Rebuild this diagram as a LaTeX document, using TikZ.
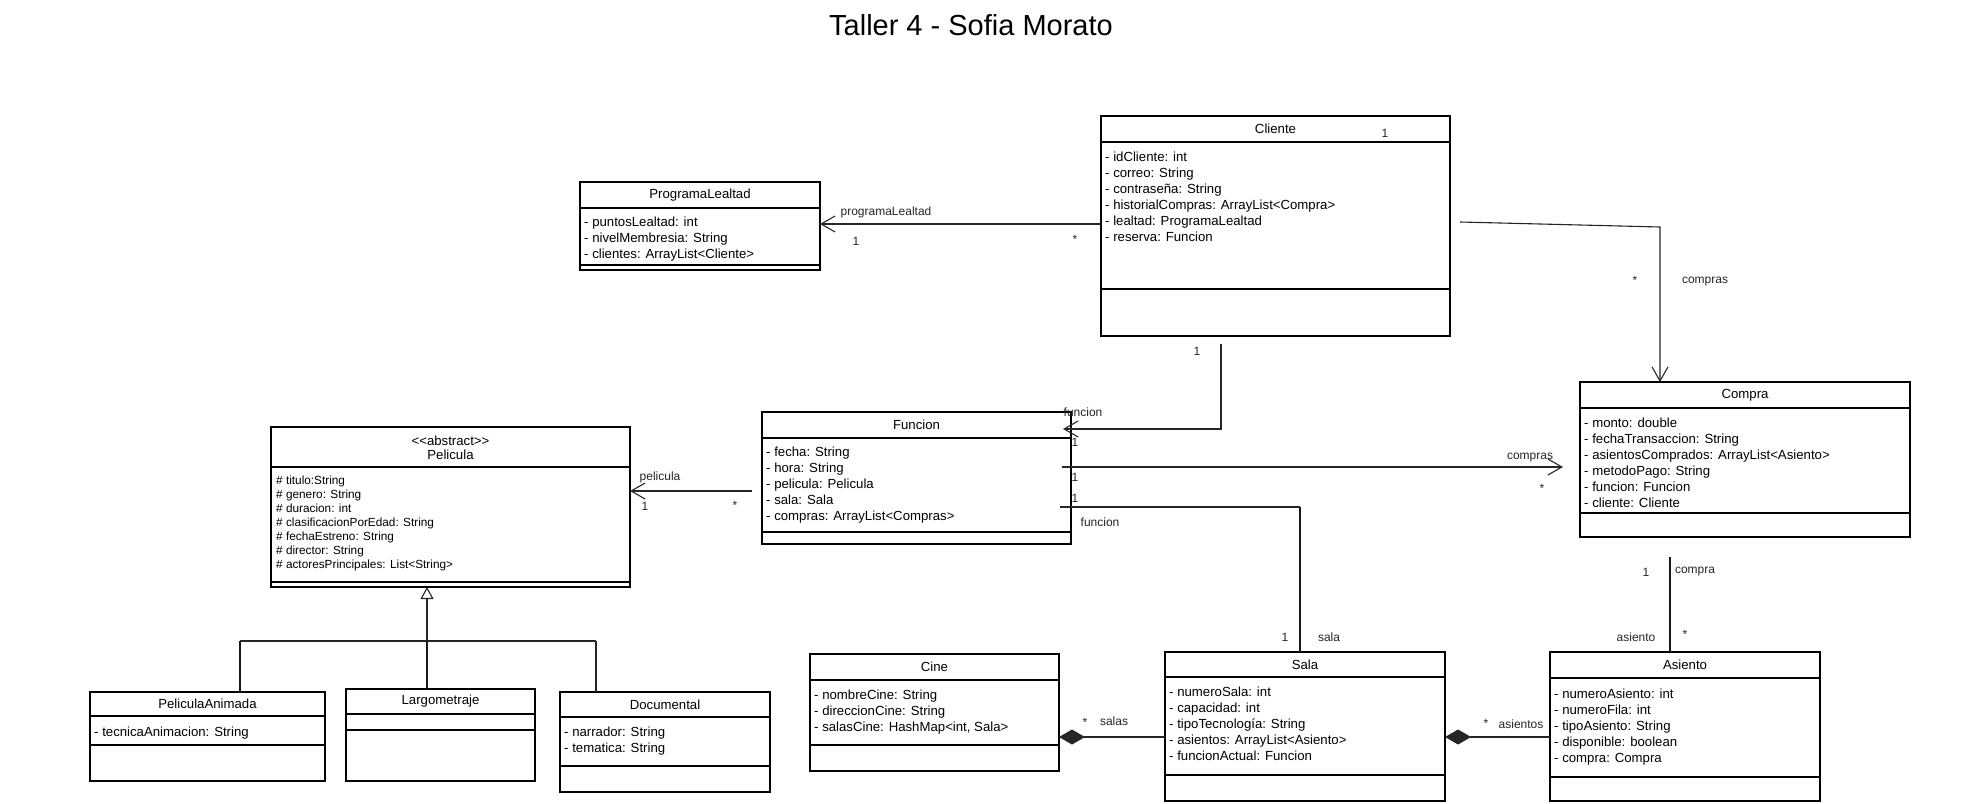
\documentclass[tikz,border=0pt]{standalone}
\usepackage{fontspec}
\setmainfont{Liberation Sans}
\usetikzlibrary{arrows.meta,calc}
\tikzset{
  box/.style={draw=black, line width=1.3pt, inner sep=0pt, outer sep=0pt, anchor=north west, fill=white},
  sepline/.style={draw=black, line width=1.3pt},
  ctitle/.style={inner sep=0pt, font=\fontsize{13.2}{16}\selectfont},
  attr/.style={inner sep=0pt, anchor=base west, font=\fontsize{13.2}{16}\selectfont},
  sattr/.style={inner sep=0pt, anchor=base west, font=\fontsize{11.8}{14}\selectfont},
  lbl/.style={inner sep=0pt, font=\fontsize{12}{14}\selectfont, text=black!85},
  assoc/.style={draw=black!85, line width=1.1pt},
  thickline/.style={draw=black!90, line width=2pt},
  openarr/.style={assoc, -{Straight Barb[length=14pt,width=16pt]}},
  comp/.style={assoc, {Diamond[length=26pt,width=15pt]}-},
  inh/.style={assoc, -{Triangle[length=12pt,width=13pt,fill=white]}},
}
\newcommand\umlclass[8]{%
  \node[box, minimum width={(#4-#2)*1pt}, minimum height={(#5-#3)*1pt}] (#1) at (#2,#3) {};
  \draw[sepline] (#1.west |- 0,#6) -- (#1.east |- 0,#6);
  \draw[sepline] (#1.west |- 0,#7) -- (#1.east |- 0,#7);
  \node[ctitle] (#1-t) at ({(#2+#4)/2},{(#3+#6)/2}) {#8};
}
\newcommand\attrs[6]{%
  \foreach \t [count=\i from 0] in {#6} \node[#5] (#1-a\i) at (#2,{#3+#4*\i}) {\t};
}
\begin{document}
\begin{tikzpicture}[x=1pt,y=-1pt]
\fill[white] (0,0) rectangle (1970,803);
\useasboundingbox (0,0) rectangle (1970,803);

\node[inner sep=0pt, anchor=base, font=\fontsize{29}{34}\selectfont] (title) at (971,35) {Taller 4 - Sofia Morato};

% classes
\umlclass{prog}{580}{182}{820}{270}{208}{265}{ProgramaLealtad}
\attrs{prog}{584}{226}{16}{attr}{- puntosLealtad: int, - nivelMembresia: String, - clientes: ArrayList<Cliente>}

\umlclass{cliente}{1101}{116}{1450}{336}{142}{289}{Cliente}
\attrs{cliente}{1105}{161}{16}{attr}{- idCliente: int, - correo: String, - contraseña: String, - historialCompras: ArrayList<Compra>, - lealtad: ProgramaLealtad, - reserva: Funcion}

\umlclass{compra}{1580}{382}{1910}{537}{408}{513}{Compra}
\attrs{compra}{1584}{427}{16}{attr}{- monto: double, - fechaTransaccion: String, - asientosComprados: ArrayList<Asiento>, - metodoPago: String, - funcion: Funcion, - cliente: Cliente}

\umlclass{funcion}{762}{412}{1071}{544}{438}{532}{Funcion}
\attrs{funcion}{766}{456}{16}{attr}{- fecha: String, - hora: String, - pelicula: Pelicula, - sala: Sala, - compras: ArrayList<Compras>}

\umlclass{pelicula}{271}{427}{630}{587}{467}{582}{}
\node[ctitle] (pelicula-st) at (450.5,441) {<\kern0pt<abstract>\kern0pt>};
\node[ctitle] (pelicula-t2) at (450.5,455) {Pelicula};
\attrs{pelicula}{276}{484}{14}{sattr}{\# titulo:String, \# genero: String, \# duracion: int, \# clasificacionPorEdad: String, \# fechaEstreno: String, \# director: String, \# actoresPrincipales: List<String>}

\umlclass{panim}{90}{692}{325}{781}{716}{745}{PeliculaAnimada}
\attrs{panim}{94}{736}{16}{attr}{- tecnicaAnimacion: String}

\umlclass{largo}{346}{689}{535}{781}{714}{730}{Largometraje}

\umlclass{docu}{560}{692}{770}{792}{717}{766}{Documental}
\attrs{docu}{564}{736}{16}{attr}{- narrador: String, - tematica: String}

\umlclass{cine}{810}{654}{1059}{771}{680}{745}{Cine}
\attrs{cine}{814}{699}{16}{attr}{- nombreCine: String, - direccionCine: String, {- salasCine: HashMap<int, Sala>}}

\umlclass{sala}{1165}{652}{1445}{801}{677}{775}{Sala}
\attrs{sala}{1169}{696}{16}{attr}{- numeroSala: int, - capacidad: int, - tipoTecnología: String, - asientos: ArrayList<Asiento>, - funcionActual: Funcion}

\umlclass{asiento}{1550}{652}{1820}{801}{678}{777}{Asiento}
\attrs{asiento}{1554}{698}{16}{attr}{- numeroAsiento: int, - numeroFila: int, - tipoAsiento: String, - disponible: boolean, - compra: Compra}

% Cliente -> ProgramaLealtad
\draw[openarr] (cliente.west |- 0,224) -- (prog.east |- 0,224);
\node[lbl] (l1a) at (886,212) {programaLealtad};
\node[lbl] (l1b) at (856,241) {1};
\node[lbl] (l1c) at (1075,239) {*};

% Cliente -> Compra
\coordinate (c2) at (1660,227);
\draw[openarr] ($(cliente.east |- 0,222)+(10,0)$) -- (c2) -- (compra.north -| c2);
\node[lbl] (l2a) at (1385,133) {1};
\node[lbl] (l2b) at (1635,280) {*};
\node[lbl] (l2c) at (1705,282) {compras};

% Cliente -> Funcion
\coordinate (c3) at (1221,429);
\draw[openarr] ($(cliente.south -| c3)+(0,8)$) -- (c3) -- ($(funcion.east |- c3)+(-8,0)$);
\node[lbl] (l3a) at (1197,351) {1};
\node[lbl] (l3b) at (1083,412) {funcion};
\node[lbl] (l3c) at (1075,442) {1};

% Funcion -> Compra
\draw[openarr] ($(funcion.east |- 0,467)+(-9,0)$) -- ($(compra.west |- 0,467)+(-17,0)$);
\node[lbl] (l4a) at (1075,477) {1};
\node[lbl] (l4b) at (1530,458) {compras};
\node[lbl] (l4c) at (1542,488) {*};

% Funcion -> Pelicula
\draw[openarr] ($(funcion.west |- 0,491)+(-10,0)$) -- (pelicula.east |- 0,491);
\node[lbl] (l5a) at (660,477) {pelicula};
\node[lbl] (l5b) at (645,506) {1};
\node[lbl] (l5c) at (735,505) {*};

% Funcion -- Sala
\coordinate (c6) at (1300,507);
\draw[assoc] ($(funcion.east |- c6)+(-11,0)$) -- (c6);
\draw[thickline] (c6) -- (sala.north -| c6);
\node[lbl] (l6a) at (1075,498) {1};
\node[lbl] (l6b) at (1100,522) {funcion};
\node[lbl] (l6c) at (1285,637) {1};
\node[lbl] (l6d) at (1329,637) {sala};

% Cine <>-- Sala
\draw[comp] (cine.east |- 0,737) -- (sala.west |- 0,737);
\node[lbl] (l7a) at (1085,722) {*};
\node[lbl] (l7b) at (1114,721) {salas};

% Sala <>-- Asiento
\draw[comp] (sala.east |- 0,737) -- (asiento.west |- 0,737);
\node[lbl] (l8a) at (1486,723) {*};
\node[lbl] (l8b) at (1521,724) {asientos};

% Compra -- Asiento
\coordinate (c9) at (1670,557);
\draw[thickline] (c9) -- (asiento.north -| c9);
\node[lbl] (l9a) at (1646,572) {1};
\node[lbl] (l9b) at (1695,572) {compra};
\node[lbl] (l9c) at (1636,637) {asiento};
\node[lbl] (l9d) at (1685,634) {*};

% Inheritance
\coordinate (g) at (427,641);
\coordinate (gl) at (240,641);
\coordinate (gr) at (596,641);
\draw[inh] (g) -- (pelicula.south -| g);
\draw[assoc] (gl) -- (gr);
\draw[thickline] (gl) -- (panim.north -| gl);
\draw[thickline] (g) -- (largo.north -| g);
\draw[assoc] (gr) -- (docu.north -| gr);
\end{tikzpicture}
\end{document}
